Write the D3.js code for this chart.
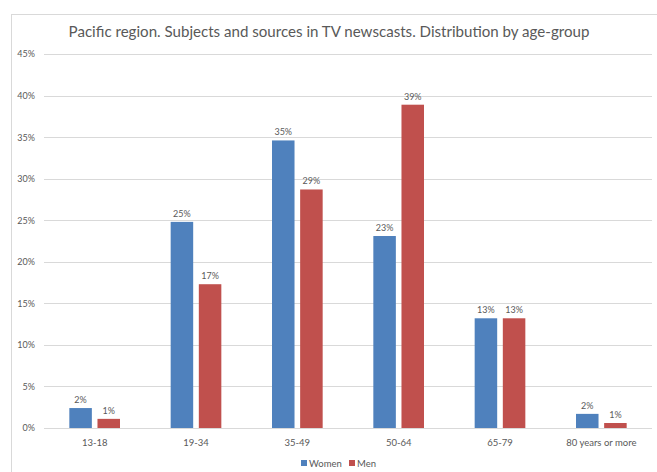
<!DOCTYPE html>
<html>
<head>
<meta charset="utf-8">
<script src="https://cdn.jsdelivr.net/npm/d3@7"></script>
<style>
  body { margin: 0; background: #fff; }
  text { font-family: Lato, "Open Sans", sans-serif; fill: #595959; }
</style>
</head>
<body>
<script>
// ---- data ----
var categories = ["13-18", "19-34", "35-49", "50-64", "65-79", "80 years or more"];
var series = ["Women", "Men"];
var women = [2.4, 24.8, 34.6, 23.1, 13.2, 1.7];
var men = [1.1, 17.3, 28.7, 38.9, 13.2, 0.6];
var yTicks = [0, 5, 10, 15, 20, 25, 30, 35, 40, 45];
var colors = ["#4F81BD", "#C0504D"];

var width = 657,
  height = 472;

var svg = d3
  .select("body")
  .append("svg")
  .attr("width", width)
  .attr("height", height);

// chart frame
svg
  .append("rect")
  .attr("x", 11.5)
  .attr("y", 14.5)
  .attr("width", 700)
  .attr("height", 500)
  .attr("fill", "none")
  .attr("stroke", "#d9d9d9");

var x0 = d3.scaleBand().domain(categories).range([44, 652]).paddingInner(0.5).paddingOuter(0.25);
var x1 = d3.scaleBand().domain(series).range([0, x0.bandwidth()]).paddingInner(0.2);
var y = d3.scaleLinear().domain([0, 45]).range([428, 54]);
var color = d3.scaleOrdinal().domain(series).range(colors);

// gridlines
svg
  .append("g")
  .selectAll("line")
  .data(yTicks)
  .enter()
  .append("line")
  .attr("x1", 44)
  .attr("x2", 652)
  .attr("y1", function (d) { return Math.round(y(d)) + 0.5; })
  .attr("y2", function (d) { return Math.round(y(d)) + 0.5; })
  .attr("stroke", "#d9d9d9");

// y axis labels
var yAxis = d3.axisLeft(y).tickValues(yTicks).tickSize(0).tickPadding(9)
  .tickFormat(function (d) { return d + "%"; });
svg
  .append("g")
  .attr("transform", "translate(44,0)")
  .call(yAxis)
  .call(function (g) { g.select(".domain").remove(); })
  .selectAll("text")
  .style("font-size", "9px")
  .style("font-family", "Lato, sans-serif")
  .attr("fill", "#595959");

// x axis labels
var xAxis = d3.axisBottom(x0).tickSize(0).tickPadding(11);
svg
  .append("g")
  .attr("transform", "translate(0,428)")
  .call(xAxis)
  .call(function (g) { g.select(".domain").remove(); })
  .selectAll("text")
  .style("font-size", "9.5px")
  .style("font-family", "Lato, sans-serif")
  .attr("fill", "#595959");

// bars
var rows = categories.map(function (c, i) {
  return { cat: c, vals: [{ s: "Women", v: women[i] }, { s: "Men", v: men[i] }] };
});

var group = svg
  .append("g")
  .selectAll("g")
  .data(rows)
  .enter()
  .append("g")
  .attr("transform", function (d) { return "translate(" + x0(d.cat) + ",0)"; });

group
  .selectAll("rect")
  .data(function (d) { return d.vals; })
  .enter()
  .append("rect")
  .attr("x", function (d) { return x1(d.s); })
  .attr("y", function (d) { return y(d.v); })
  .attr("width", x1.bandwidth())
  .attr("height", function (d) { return y(0) - y(d.v); })
  .attr("fill", function (d) { return color(d.s); });

group
  .selectAll("text")
  .data(function (d) { return d.vals; })
  .enter()
  .append("text")
  .attr("x", function (d) { return x1(d.s) + x1.bandwidth() / 2; })
  .attr("y", function (d) { return y(d.v) - 5; })
  .attr("text-anchor", "middle")
  .style("font-size", "9px")
  .text(function (d) { return Math.round(d.v) + "%"; });

// title
svg
  .append("text")
  .attr("x", 329)
  .attr("y", 37)
  .attr("text-anchor", "middle")
  .style("font-size", "15.1px")
  .text("Pacific region. Subjects and sources in TV newscasts. Distribution by age-group");

// legend
var legend = svg
  .append("g")
  .selectAll("g")
  .data(series)
  .enter()
  .append("g")
  .attr("transform", function (d, i) { return "translate(" + [301, 349][i] + ",460)"; });

legend
  .append("rect")
  .attr("width", 6)
  .attr("height", 6)
  .attr("fill", function (d) { return color(d); });

legend
  .append("text")
  .attr("x", 8)
  .attr("y", 6.5)
  .style("font-size", "9.5px")
  .text(function (d) { return d; });
</script>
</body>
</html>
